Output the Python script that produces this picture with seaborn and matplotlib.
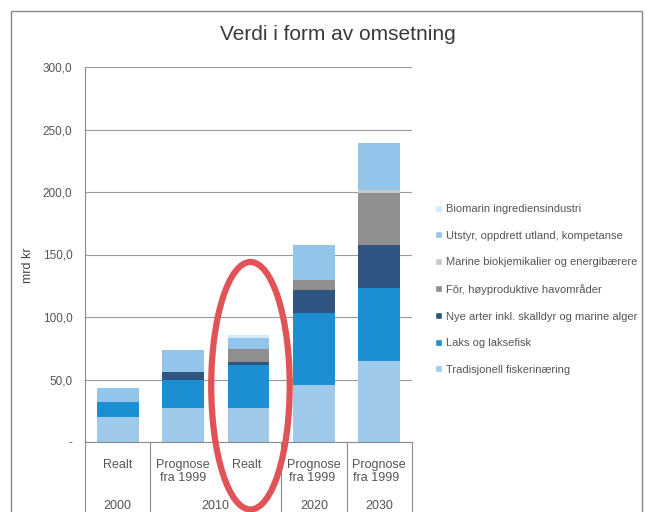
import matplotlib
matplotlib.use("Agg")
import matplotlib.pyplot as plt
from matplotlib.patches import Ellipse, Rectangle, Patch
from matplotlib.ticker import FuncFormatter
import seaborn as sns
import pandas as pd

# --- data (mrd kr) ---
categories = ["Realt", "Prognose\nfra 1999", "Realt ", "Prognose\nfra 1999 ", "Prognose\nfra 1999  "]
years = ["2000", "2010", "2020", "2030"]
year_pos = [0, 1.5, 3, 4]

tradisjonell = [20, 27, 27, 45.5, 65]
laks = [12, 23, 35, 57.5, 58]
nye_arter = [0, 6, 2, 19, 35]
for_hav = [0, 0, 10.5, 7.5, 41]
marine_bio = [0, 0, 0, 0, 3]
utstyr = [11, 18, 8.5, 28, 37]
biomarin = [0, 0, 3, 0, 0]

series = [
    ("Tradisjonell fiskerinæring", tradisjonell, "#9ec9ea"),
    ("Laks og laksefisk", laks, "#1b8fd2"),
    ("Nye arter inkl. skalldyr og marine alger", nye_arter, "#2f5582"),
    ("Fôr, høyproduktive havområder", for_hav, "#918f8e"),
    ("Marine biokjemikalier og energibærere", marine_bio, "#c9c9c9"),
    ("Utstyr, oppdrett utland, kompetanse", utstyr, "#93c4ea"),
    ("Biomarin ingrediensindustri", biomarin, "#d4ebf7"),
]

sns.set_theme(style="white")
plt.rcParams["font.family"] = ["Liberation Sans", "DejaVu Sans"]
text_col = "#555555"

fig = plt.figure(figsize=(6.51, 5.12), dpi=100)
ax = fig.add_axes([85 / 651, 1 - 442 / 512, 327 / 651, 375 / 512])

# stacked bars
bottom = [0] * len(categories)
for name, vals, col in series:
    df = pd.DataFrame({"kat": categories, "verdi": vals})
    sns.barplot(data=df, x="kat", y="verdi", order=categories, color=col,
                width=0.64, bottom=bottom, ax=ax, saturation=1, linewidth=0)
    bottom = [b + v for b, v in zip(bottom, vals)]

ax.set_xlim(-0.5, 4.5)
ax.set_ylim(0, 300)
ax.set_yticks(range(0, 301, 50))
ax.yaxis.set_major_formatter(FuncFormatter(lambda v, p: "-" if v == 0 else f"{v:.1f}".replace(".", ",")))
ax.grid(axis="y", color="#9a9a9a", linewidth=0.8)
ax.set_axisbelow(True)
for s in ["top", "right"]:
    ax.spines[s].set_visible(False)
ax.spines["left"].set_color("#8a8a8a")
ax.spines["bottom"].set_color("#8a8a8a")
ax.spines["left"].set_linewidth(0.8)
ax.spines["bottom"].set_linewidth(0.8)
ax.tick_params(axis="y", length=0, pad=9, labelsize=8.5, labelcolor=text_col)
ax.tick_params(axis="x", length=0, pad=12, labelsize=9, labelcolor=text_col)
ax.set_xlabel("")
ax.set_ylabel("mrd kr", fontsize=9, color="#444444")
ax.yaxis.set_label_coords(-0.155, 0.472)

# category table under the axis
for xs in [-0.5, 0.5, 2.5, 3.5, 4.5]:
    ax.plot([xs, xs], [0, -60], color="#8a8a8a", lw=0.8, clip_on=False)
for yr, xp in zip(years, year_pos):
    ax.text(xp, -51, yr, ha="center", va="center", fontsize=9, color=text_col)

# red highlight around 2010 Realt
ax.add_patch(Ellipse((2.03, 45), 1.2, 198, fill=False, edgecolor="#e05458",
                     linewidth=4.5, clip_on=False, zorder=5))

fig.text(338 / 651, 1 - 35 / 512, "Verdi i form av omsetning", ha="center", va="center",
         fontsize=15, color="#3a3a3a")

handles = [Patch(facecolor=c, label=n) for n, v, c in series][::-1]
fig.legend(handles=handles, loc="upper left", bbox_to_anchor=(425 / 651, 1 - 194 / 512),
           frameon=False, fontsize=8, labelcolor=text_col, handlelength=0.6,
           handleheight=0.6, handletextpad=0.4, labelspacing=1.5)

# outer frame
fig.patches.append(Rectangle((11 / 651, -0.1), 631 / 651, 1.1 - 11 / 512, transform=fig.transFigure,
                             fill=False, edgecolor="#888888", linewidth=1))

fig.savefig("out.png", dpi=100)
